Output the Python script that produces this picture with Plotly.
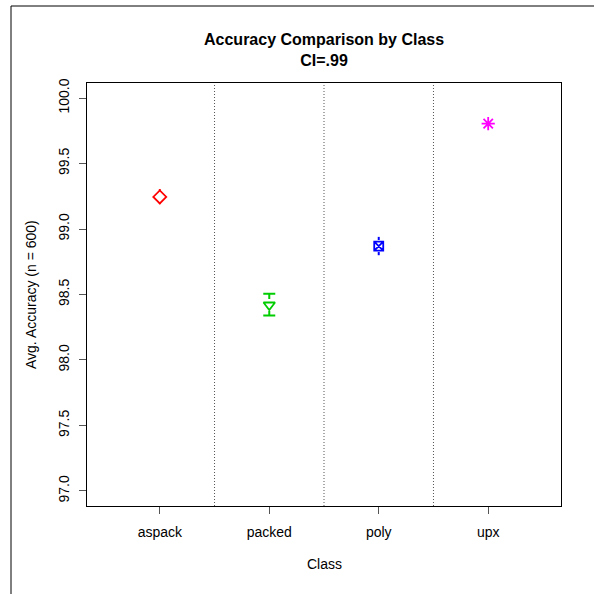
import plotly.graph_objects as go

classes = ["aspack", "packed", "poly", "upx"]
means = [99.245, 98.42, 98.87, 99.805]
ci_low = [99.19, 98.34, 98.80, 99.79]
ci_high = [99.305, 98.505, 98.94, 99.82]
colors = ["#FF0000", "#00CD00", "#0000FF", "#FF00FF"]
symbols = ["diamond-open", "triangle-down-open", "square-x-open", "asterisk-open"]
sizes = [10, 10, 9, 11]
cap_widths = [0, 6, 0, 0]
y_ticks = [97.0, 97.5, 98.0, 98.5, 99.0, 99.5, 100.0]

FONT = "Liberation Sans, Arial, sans-serif"
L, R, T, B = 87, 33, 83, 88
W = H = 594
pw, ph = W - L - R, H - T - B

def px_x(p):
    return (p - L) / pw

def px_y(p):
    return (H - B - p) / ph

fig = go.Figure()
xs = list(range(1, len(classes) + 1))
for i, c in enumerate(classes):
    fig.add_trace(go.Scatter(
        x=[xs[i]], y=[means[i]], mode="markers",
        marker=dict(symbol="square", size=12, color="white", line=dict(width=0)),
        error_y=dict(type="data", symmetric=False,
                     array=[ci_high[i] - means[i]], arrayminus=[means[i] - ci_low[i]],
                     color=colors[i], thickness=2, width=cap_widths[i]),
        showlegend=False, hoverinfo="skip"))
    fig.add_trace(go.Scatter(
        x=[xs[i]], y=[means[i]], mode="markers",
        marker=dict(symbol=symbols[i], size=sizes[i], color=colors[i],
                    line=dict(width=1.8, color=colors[i])),
        showlegend=False, name=c))

shapes = []
for k in range(1, len(classes)):
    shapes.append(dict(type="line", xref="x", yref="paper", x0=k + 0.5, x1=k + 0.5,
                       y0=0, y1=1, line=dict(color="#555555", width=1, dash="1px,2px"), layer="below"))
shapes.append(dict(type="rect", xref="paper", yref="paper",
                   x0=px_x(11), x1=px_x(800), y0=px_y(800), y1=px_y(6),
                   line=dict(color="black", width=1), fillcolor="rgba(0,0,0,0)"))

annotations = [
    dict(text="<b>Accuracy Comparison by Class<br>CI=.99</b>", xref="paper", yref="paper",
         x=0.5, y=px_y(50), xanchor="center", yanchor="middle", showarrow=False,
         font=dict(family=FONT, size=16, color="black")),
    dict(text="Class", xref="paper", yref="paper", x=0.5, y=px_y(564),
         xanchor="center", yanchor="middle", showarrow=False,
         font=dict(family=FONT, size=14, color="black")),
    dict(text="Avg. Accuracy (n = 600)", xref="paper", yref="paper", x=px_x(31), y=px_y(295),
         xanchor="center", yanchor="middle", textangle=-90, showarrow=False,
         font=dict(family=FONT, size=14, color="black")),
]

fig.update_layout(
    width=W, height=H, margin=dict(l=L, r=R, t=T, b=B, pad=0),
    paper_bgcolor="white", plot_bgcolor="white",
    font=dict(family=FONT, size=14, color="black"),
    shapes=shapes, annotations=annotations,
    xaxis=dict(range=[0.335, 4.665], tickmode="array", tickvals=xs, ticktext=classes,
               showgrid=False, zeroline=False, showline=True, linecolor="black", linewidth=1,
               mirror=True, ticks="outside", ticklen=7, tickcolor="#555555", tickwidth=1,
               ticklabelstandoff=6,
               tickfont=dict(family=FONT, size=14, color="black")),
    yaxis=dict(range=[96.885, 100.115], tickmode="array", tickvals=y_ticks,
               ticktext=[f"{v:.1f}" for v in y_ticks], tickangle=-90,
               showgrid=False, zeroline=False, showline=True, linecolor="black", linewidth=1,
               mirror=True, ticks="outside", ticklen=7, tickcolor="#555555", tickwidth=1,
               ticklabelstandoff=4,
               tickfont=dict(family=FONT, size=14, color="black")),
)

fig.write_html("out.html")
